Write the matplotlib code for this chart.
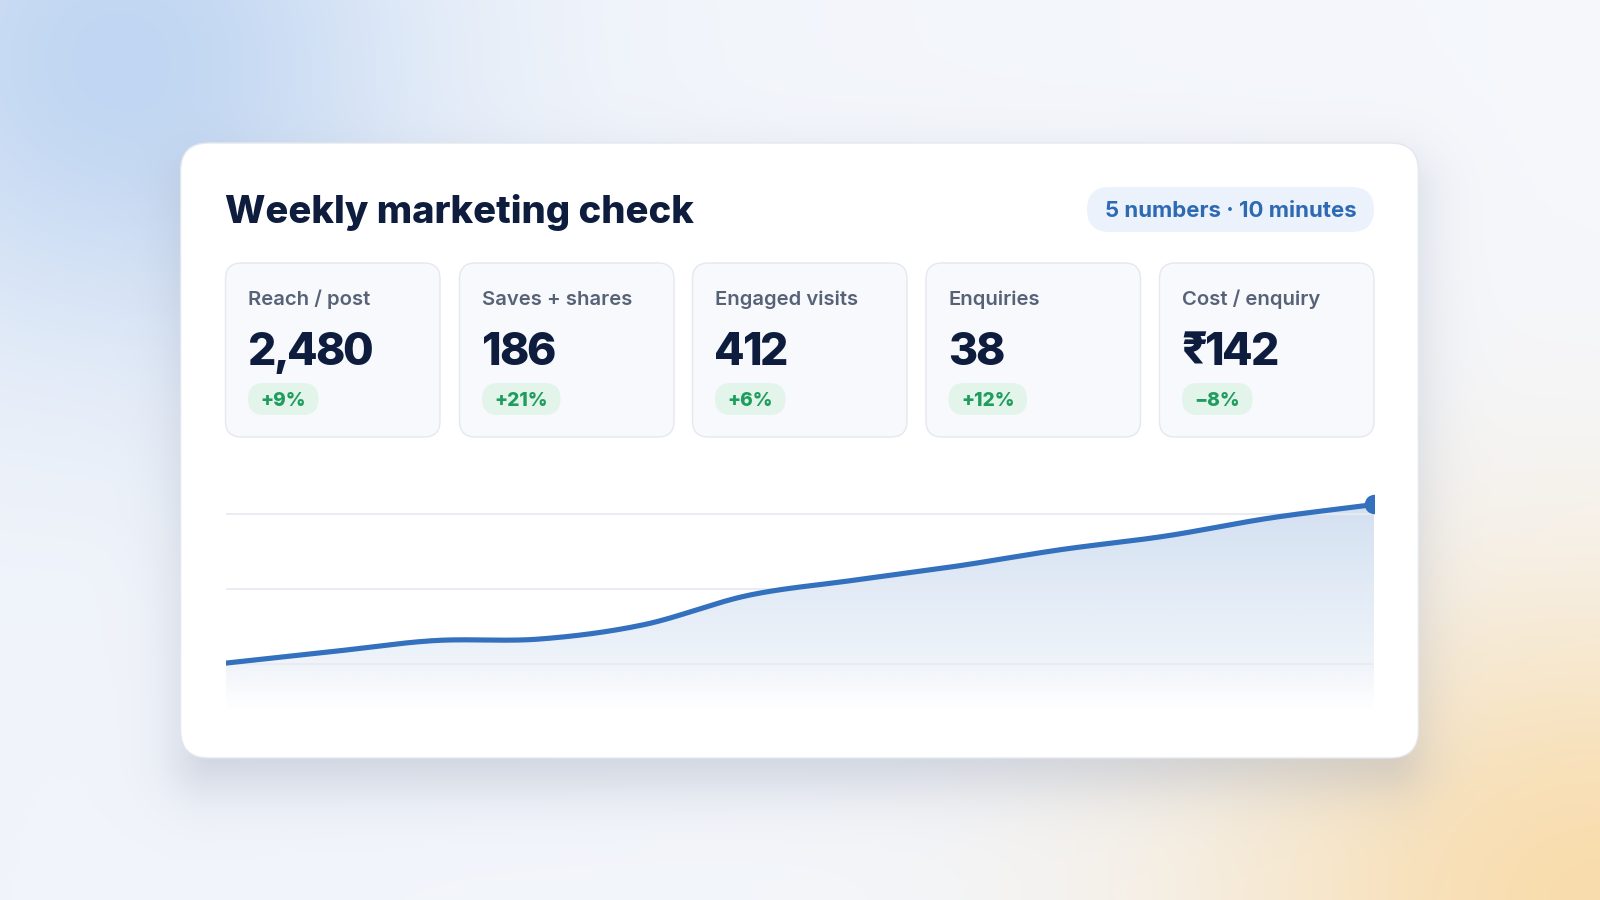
import numpy as np
import matplotlib
matplotlib.use("Agg")
import matplotlib.pyplot as plt
from matplotlib.patches import FancyBboxPatch, Polygon
from matplotlib.colors import to_rgb
from matplotlib.font_manager import FontProperties

plt.rcParams['font.family'] = ['Inter', 'DejaVu Sans']

# ---------------- data ----------------
title = "Weekly marketing check"
badge = "5 numbers · 10 minutes"
kpi_labels = ["Reach / post", "Saves + shares", "Engaged visits", "Enquiries", "Cost / enquiry"]
kpi_values = ["2,480", "186", "412", "38", "₹142"]
kpi_deltas = ["+9%", "+21%", "+6%", "+12%", "−8%"]
weeks = [1, 2, 3, 4, 5, 6, 7, 8, 9, 10, 11, 12]
trend = [201, 216, 231, 233, 252, 291, 311, 330, 352, 370, 394, 412]
grid_levels = [200, 300, 400]

# ---------------- styles ----------------
NAVY = "#0e1d3d"
GREY = "#586277"
BLUE = "#3370be"
GREEN = "#1f9d5e"
W, H = 1600, 900

fig = plt.figure(figsize=(16, 9), dpi=100)
bg = fig.add_axes([0, 0, 1, 1])
bg.set_xlim(0, W)
bg.set_ylim(H, 0)
bg.axis('off')
renderer = fig.canvas.get_renderer()

# background with soft colour blobs
yy, xx = np.mgrid[0:H, 0:W] + 0.5
img = np.ones((H, W, 3)) * np.array([0.945, 0.958, 0.982])
img = img + (np.array([0.962, 0.970, 0.987]) - img) * (xx / W)[..., None]
for cx, cy, sx, sy, col in [(120, 60, 300, 290, (0.755, 0.84, 0.95)),
                            (1600, 900, 400, 320, (0.975, 0.865, 0.68))]:
    w = np.exp(-(((xx - cx) / sx) ** 2 + ((yy - cy) / sy) ** 2))[..., None]
    img = img * (1 - w) + np.array(col) * w

# card geometry
cx0, cy0, cx1, cy1 = 180.6, 143.0, 1418.4, 758.0
rad = 28

def sdf_round_rect(px, py, x0, y0, x1, y1, r):
    c_x, c_y = (x0 + x1) / 2, (y0 + y1) / 2
    hx, hy = (x1 - x0) / 2 - r, (y1 - y0) / 2 - r
    qx = np.abs(px - c_x) - hx
    qy = np.abs(py - c_y) - hy
    outside = np.hypot(np.maximum(qx, 0), np.maximum(qy, 0))
    inside = np.minimum(np.maximum(qx, qy), 0)
    return outside + inside - r

d = sdf_round_rect(xx, yy, cx0 + 2, cy0 + 26, cx1 - 2, cy1 + 26, rad)
sh = 0.34 / (1 + np.exp(d / 18.0))
img = img * (1 - sh[..., None]) + np.array([0.50, 0.55, 0.65]) * sh[..., None]
bg.imshow(np.clip(img, 0, 1), extent=[0, W, H, 0], zorder=0, interpolation='bilinear')

card = FancyBboxPatch((cx0, cy0), cx1 - cx0, cy1 - cy0,
                      boxstyle=f"round,pad=0,rounding_size={rad}",
                      fc="white", ec="#e3e7ee", lw=1.0, zorder=1)
bg.add_patch(card)


def tracked_text(x, y, s, tracking, size, weight, color, z):
    """Draw text with tighter letter spacing (tracking in pixels)."""
    prop = FontProperties(family=['Inter', 'DejaVu Sans'], size=size, weight=weight)
    for i, ch in enumerate(s):
        if i:
            wpx, _, _ = renderer.get_text_width_height_descent(s[:i], prop, ismath=False)
        else:
            wpx = 0
        bg.text(x + wpx + tracking * i, y, ch, fontproperties=prop, color=color,
                va='baseline', ha='left', zorder=z)


# title + badge
bg.text(225, 223, title, fontsize=27.5, fontweight='heavy', color=NAVY,
        va='baseline', ha='left', zorder=3)
bg.add_patch(FancyBboxPatch((1087, 187), 287, 45,
                            boxstyle="round,pad=0,rounding_size=22.5",
                            fc="#ebf2fc", ec="none", zorder=2))
bg.text(1230.5, 217, badge, fontsize=16.0, fontweight='bold', color="#2e6ab4",
        va='baseline', ha='center', zorder=3)

# KPI tiles
tile_x = [225.5, 459.5, 692.5, 926.0, 1159.5]
tile_w, tile_y, tile_h = 214.5, 263.0, 174.0
for i, (lab, val, dlt) in enumerate(zip(kpi_labels, kpi_values, kpi_deltas)):
    x = tile_x[i]
    bg.add_patch(FancyBboxPatch((x, tile_y), tile_w, tile_h,
                                boxstyle="round,pad=0,rounding_size=16",
                                fc="#f7f9fc", ec="#e4e8ef", lw=1.0, zorder=2))
    bg.text(x + 22.5, 305, lab, fontsize=14.6, fontweight='semibold', color=GREY,
            va='baseline', ha='left', zorder=3)
    tracked_text(x + 22, 365, val, -2.3, 32, 'heavy', NAVY, 3)
    t = bg.text(x + 22.5 + 12.5, 405.5, dlt, fontsize=13.8, fontweight='heavy', color=GREEN,
                va='baseline', ha='left', zorder=4)
    tw = t.get_window_extent(renderer).width
    bg.add_patch(FancyBboxPatch((x + 22.5, 383), tw + 25, 32,
                                boxstyle="round,pad=0,rounding_size=16",
                                fc="#e3f4ea", ec="none", zorder=3))

# ---------------- trend chart ----------------
px_per_unit = 0.752
y_top_px, y_bot_px = 470.0, 725.0
def v_of_px(p):
    return 200 + (663.9 - p) / px_per_unit
ytop, ybot = v_of_px(y_top_px), v_of_px(y_bot_px)

left, right = 225.5 / W, 1374.5 / W
ax = fig.add_axes([left, 1 - y_bot_px / H, right - left, (y_bot_px - y_top_px) / H])
ax.set_xlim(weeks[0], weeks[-1])
ax.set_ylim(ybot, ytop)
ax.axis('off')
ax.patch.set_visible(False)

# smooth curve (cubic Hermite rendering through the weekly values)
xs = np.array(weeks, float)
ys = np.array(trend, float)
tang = np.gradient(ys, xs)
cx_list, cy_list = [], []
for k in range(len(xs) - 1):
    t = np.linspace(0, 1, 40, endpoint=(k == len(xs) - 2))
    h = xs[k + 1] - xs[k]
    h00 = 2 * t**3 - 3 * t**2 + 1
    h10 = t**3 - 2 * t**2 + t
    h01 = -2 * t**3 + 3 * t**2
    h11 = t**3 - t**2
    cx_list.append(xs[k] + t * h)
    cy_list.append(h00 * ys[k] + h10 * h * tang[k] + h01 * ys[k + 1] + h11 * h * tang[k + 1])
sx = np.concatenate(cx_list)
sy = np.concatenate(cy_list)

# gradient area fill
rows = 300
vals = np.linspace(ytop, ybot, rows)
pix = 663.9 - (vals - 200) * px_per_unit
alpha = np.interp(pix, [500, 588, 663, 690, 712], [0.22, 0.145, 0.08, 0.035, 0.0])
rgb = np.array(to_rgb(BLUE))
grad = np.zeros((rows, 2, 4))
grad[..., :3] = rgb
grad[..., 3] = alpha[:, None]
im = ax.imshow(grad, extent=[weeks[0], weeks[-1], ybot, ytop], aspect='auto',
               origin='upper', interpolation='bilinear', zorder=1)
verts = np.column_stack([np.r_[sx[0], sx, sx[-1]], np.r_[ybot, sy, ybot]])
clip = Polygon(verts, closed=True, fc='none', ec='none', transform=ax.transData)
ax.add_patch(clip)
im.set_clip_path(clip)

ax.hlines(grid_levels, weeks[0], weeks[-1], colors="#e8ebf0", lw=1.3, zorder=2)
ax.plot(sx, sy, color=BLUE, lw=3.7, solid_capstyle='round', zorder=4)
ax.plot([weeks[-1]], [trend[-1]], 'o', color=BLUE, ms=14, mec='none', zorder=5)

fig.savefig("out.png", dpi=100)
